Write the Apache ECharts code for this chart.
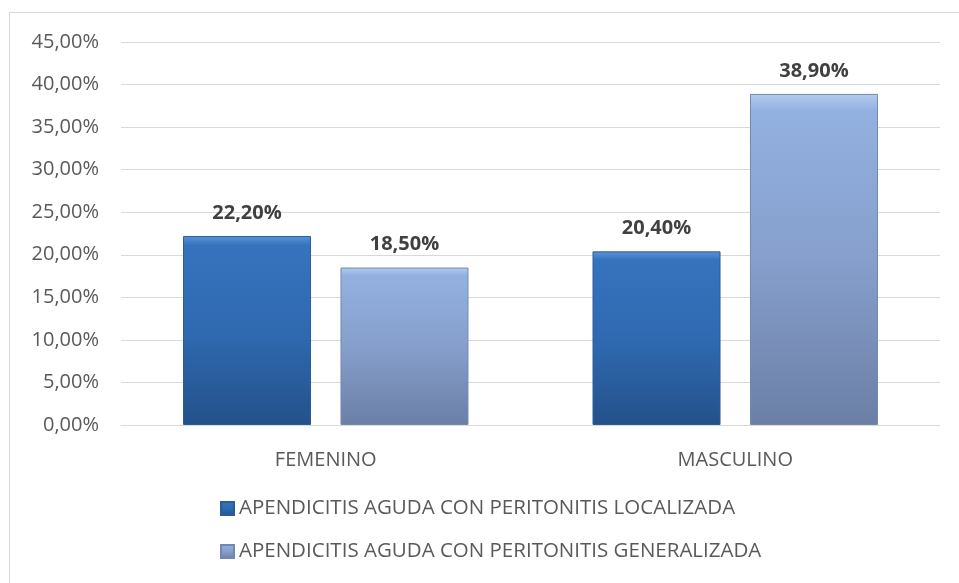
<!DOCTYPE html>
<html>
<head>
<meta charset="utf-8">
<script src="https://cdn.jsdelivr.net/npm/echarts@6/dist/echarts.min.js"></script>
<style>
html, body { margin: 0; padding: 0; background: #fff; }
#frame { position: absolute; left: 9px; top: 12px; width: 960px; height: 580px;
  border-left: 1px solid #d9d9d9; border-top: 1px solid #d9d9d9; }
#chart { position: absolute; left: 0; top: 0; width: 959px; height: 583px; }
</style>
</head>
<body>
<div id="frame"></div>
<div id="chart"></div>
<script>
// datos
const categorias = ['FEMENINO', 'MASCULINO']
const serieNombres = [
  'APENDICITIS AGUDA CON PERITONITIS LOCALIZADA',
  'APENDICITIS AGUDA CON PERITONITIS GENERALIZADA'
]
const localizada = [22.2, 20.4]
const generalizada = [18.5, 38.9]

const fmt = v => v.toFixed(2).replace('.', ',') + '%'
const fuente = '"Open Sans", sans-serif'

const grad = (c0, c1, c2, c3) => new echarts.graphic.LinearGradient(0, 0, 0, 1, [
  { offset: 0, color: c0 },
  { offset: 0.05, color: c1 },
  { offset: 0.5, color: c2 },
  { offset: 1, color: c3 }
])

const oscuro = grad('#5b93d6', '#3673bd', '#2f6ab1', '#24518a')
const claro = grad('#b3cbee', '#93b1e0', '#869fcc', '#6b7fa6')

const mychart = echarts.init(document.getElementById('chart'))
const option = {
  animation: false,
  textStyle: { fontFamily: fuente },
  grid: { left: 121, right: 19, top: 42, bottom: 158 },
  legend: {
    orient: 'vertical',
    left: 220,
    top: 498,
    padding: 0,
    icon: 'rect',
    itemWidth: 13,
    itemHeight: 13,
    itemGap: 22,
    textStyle: { fontSize: 20.5, color: '#595959', fontFamily: fuente },
    data: serieNombres
  },
  xAxis: {
    type: 'category',
    data: categorias,
    axisLine: { lineStyle: { color: '#d9d9d9', width: 1 } },
    axisTick: { show: false },
    axisLabel: { fontSize: 20, color: '#595959', margin: 25 }
  },
  yAxis: {
    type: 'value',
    min: 0,
    max: 45,
    interval: 5,
    axisLine: { show: false },
    axisTick: { show: false },
    splitLine: { lineStyle: { color: '#d9d9d9', width: 1 } },
    axisLabel: { fontSize: 20, color: '#595959', margin: 22, formatter: fmt }
  },
  series: [{
    name: serieNombres[0],
    type: 'bar',
    data: localizada,
    barWidth: 128,
    barGap: '23%',
    itemStyle: { color: oscuro, borderColor: '#2a5c99', borderWidth: 1 },
    label: { show: true, position: 'top', distance: 13, formatter: p => fmt(p.value),
      fontSize: 20, fontWeight: 'bold', color: '#404040' }
  }, {
    name: serieNombres[1],
    type: 'bar',
    data: generalizada,
    barWidth: 128,
    itemStyle: { color: claro, borderColor: '#7388b0', borderWidth: 1 },
    label: { show: true, position: 'top', distance: 13, formatter: p => fmt(p.value),
      fontSize: 20, fontWeight: 'bold', color: '#404040' }
  }]
}
mychart.setOption(option, true)
</script>
</body>
</html>
